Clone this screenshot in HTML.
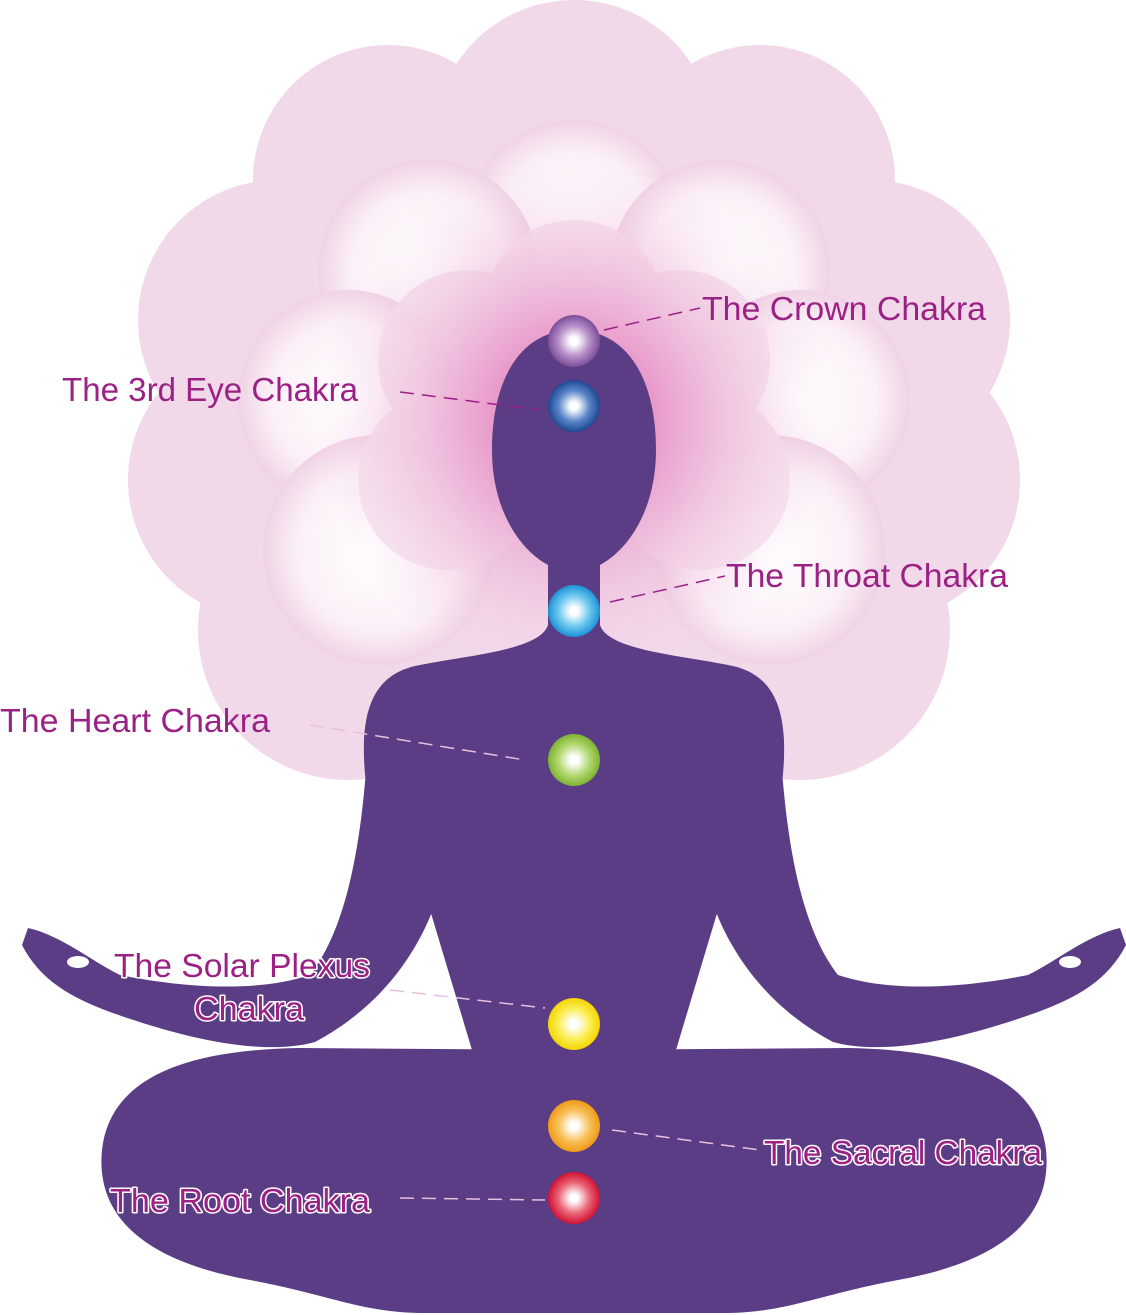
<!DOCTYPE html>
<html><head><meta charset="utf-8"><style>html,body{margin:0;padding:0;background:#fff;}svg{display:block}</style></head>
<body>
<svg width="1126" height="1315" viewBox="0 0 1126 1315" xmlns="http://www.w3.org/2000/svg">
<defs>
<radialGradient id="glow" cx="574" cy="420" r="260" gradientUnits="userSpaceOnUse">
<stop offset="0" stop-color="#d9479f" stop-opacity="0.9"/>
<stop offset="0.45" stop-color="#e792c6" stop-opacity="0.6"/>
<stop offset="1" stop-color="#f3d3e8" stop-opacity="0"/>
</radialGradient>
<radialGradient id="pet" cx="0.5" cy="0.5" r="0.5">
<stop offset="0" stop-color="#ffffff"/>
<stop offset="0.7" stop-color="#fbf0f7"/>
<stop offset="1" stop-color="#f0d3e6"/>
</radialGradient>
<radialGradient id="c1" cx="0.5" cy="0.5" r="0.5"><stop offset="0.15" stop-color="#fff"/><stop offset="0.6" stop-color="#b58dc8"/><stop offset="1" stop-color="#7b4e98"/></radialGradient>
<radialGradient id="c2" cx="0.5" cy="0.5" r="0.5"><stop offset="0.15" stop-color="#fff"/><stop offset="0.6" stop-color="#5a86c8"/><stop offset="1" stop-color="#1f4894"/></radialGradient>
<radialGradient id="c3" cx="0.5" cy="0.5" r="0.5"><stop offset="0.15" stop-color="#fff"/><stop offset="0.6" stop-color="#6cc8ef"/><stop offset="1" stop-color="#1d93d6"/></radialGradient>
<radialGradient id="c4" cx="0.5" cy="0.5" r="0.5"><stop offset="0.15" stop-color="#fff"/><stop offset="0.6" stop-color="#b4d872"/><stop offset="1" stop-color="#7db332"/></radialGradient>
<radialGradient id="c5" cx="0.5" cy="0.5" r="0.5"><stop offset="0.15" stop-color="#fff"/><stop offset="0.6" stop-color="#fbee55"/><stop offset="1" stop-color="#f2d500"/></radialGradient>
<radialGradient id="c6" cx="0.5" cy="0.5" r="0.5"><stop offset="0.15" stop-color="#fff"/><stop offset="0.6" stop-color="#f8c15a"/><stop offset="1" stop-color="#ef9a16"/></radialGradient>
<radialGradient id="c7" cx="0.5" cy="0.5" r="0.5"><stop offset="0.15" stop-color="#fff"/><stop offset="0.6" stop-color="#ea6477"/><stop offset="1" stop-color="#cf1232"/></radialGradient>
</defs>

<!-- lotus -->
<g fill="#f2d9ea">
<circle cx="574" cy="140" r="140"/>
<circle cx="760" cy="180" r="135"/>
<circle cx="388" cy="180" r="135"/>
<circle cx="870" cy="320" r="140"/>
<circle cx="278" cy="320" r="140"/>
<circle cx="880" cy="480" r="140"/>
<circle cx="268" cy="480" r="140"/>
<circle cx="800" cy="630" r="150"/>
<circle cx="348" cy="630" r="150"/>
<circle cx="574" cy="420" r="300"/>
</g>
<g fill="url(#pet)">
<circle cx="574" cy="230" r="110"/>
<circle cx="720" cy="270" r="110"/>
<circle cx="428" cy="270" r="110"/>
<circle cx="800" cy="400" r="110"/>
<circle cx="348" cy="400" r="110"/>
<circle cx="770" cy="550" r="115"/>
<circle cx="378" cy="550" r="115"/>
</g>
<g fill="#f6e2ef" opacity="0.9">
<circle cx="574" cy="310" r="90"/>
<circle cx="680" cy="360" r="90"/>
<circle cx="468" cy="360" r="90"/>
<circle cx="700" cy="480" r="90"/>
<circle cx="448" cy="480" r="90"/>
</g>
<circle cx="574" cy="420" r="260" fill="url(#glow)"/>

<!-- silhouette -->
<g id="half" fill="#5a3d85">
<path d="M574,330 C520,330 492,380 492,450 C492,510 520,550 548,565 L548,625 C540,650 470,655 420,665 C380,672 366,700 364,740 C362,800 380,870 430,910 L475,1060 L574,1060 Z"/>
<path d="M368,740 C362,850 345,930 310,975 C250,995 170,985 120,975 C90,960 60,935 28,928 L22,945 C40,980 70,997 110,1012 C180,1037 260,1057 315,1042 C375,1010 412,962 432,912 Z"/>
<path d="M574,1050 L300,1048 C180,1050 110,1080 102,1150 C95,1220 150,1262 250,1280 C330,1295 360,1312 420,1313 L574,1313 Z"/>
<ellipse cx="78" cy="962" rx="11" ry="6" fill="#fff"/>
</g>
<use href="#half" transform="matrix(-1 0 0 1 1148 0)"/>

<!-- dashed leader lines -->
<g stroke-width="1.5" stroke-dasharray="14,8" fill="none">
<line x1="604" y1="330" x2="700" y2="308" stroke="#9c2185"/>
<line x1="400" y1="392" x2="540" y2="410" stroke="#9c2185"/>
<line x1="610" y1="602" x2="725" y2="576" stroke="#9c2185"/>
<line x1="310" y1="725" x2="525" y2="760" stroke="#e9bfe0"/>
<line x1="390" y1="990" x2="545" y2="1008" stroke="#e9bfe0"/>
<line x1="612" y1="1130" x2="760" y2="1150" stroke="#e9bfe0"/>
<line x1="400" y1="1198" x2="545" y2="1200" stroke="#e9bfe0"/>
</g>

<!-- chakras -->
<circle cx="574" cy="341" r="26" fill="url(#c1)"/>
<circle cx="574" cy="406" r="26" fill="url(#c2)"/>
<circle cx="574" cy="611" r="26" fill="url(#c3)"/>
<circle cx="574" cy="760" r="26" fill="url(#c4)"/>
<circle cx="574" cy="1024" r="26" fill="url(#c5)"/>
<circle cx="574" cy="1126" r="26" fill="url(#c6)"/>
<circle cx="574" cy="1198" r="26" fill="url(#c7)"/>

<!-- labels -->
<g font-family="Liberation Sans, sans-serif" font-size="33" fill="#9c2185">
<text x="702" y="320" textLength="284" lengthAdjust="spacingAndGlyphs">The Crown Chakra</text>
<text x="62" y="401" textLength="296" lengthAdjust="spacingAndGlyphs">The 3rd Eye Chakra</text>
<text x="726" y="587" textLength="282" lengthAdjust="spacingAndGlyphs">The Throat Chakra</text>
<text x="0" y="732" textLength="270" lengthAdjust="spacingAndGlyphs">The Heart Chakra</text>
</g>
<g font-family="Liberation Sans, sans-serif" font-size="33" fill="#9c2185" stroke="#ffffff" stroke-width="3" paint-order="stroke" stroke-linejoin="round">
<text x="114" y="977" textLength="256" lengthAdjust="spacingAndGlyphs">The Solar Plexus</text>
<text x="194" y="1020" textLength="110" lengthAdjust="spacingAndGlyphs">Chakra</text>
<text x="764" y="1164" textLength="278" lengthAdjust="spacingAndGlyphs">The Sacral Chakra</text>
<text x="110" y="1212" textLength="260" lengthAdjust="spacingAndGlyphs">The Root Chakra</text>
</g>
</svg>
</body></html>
